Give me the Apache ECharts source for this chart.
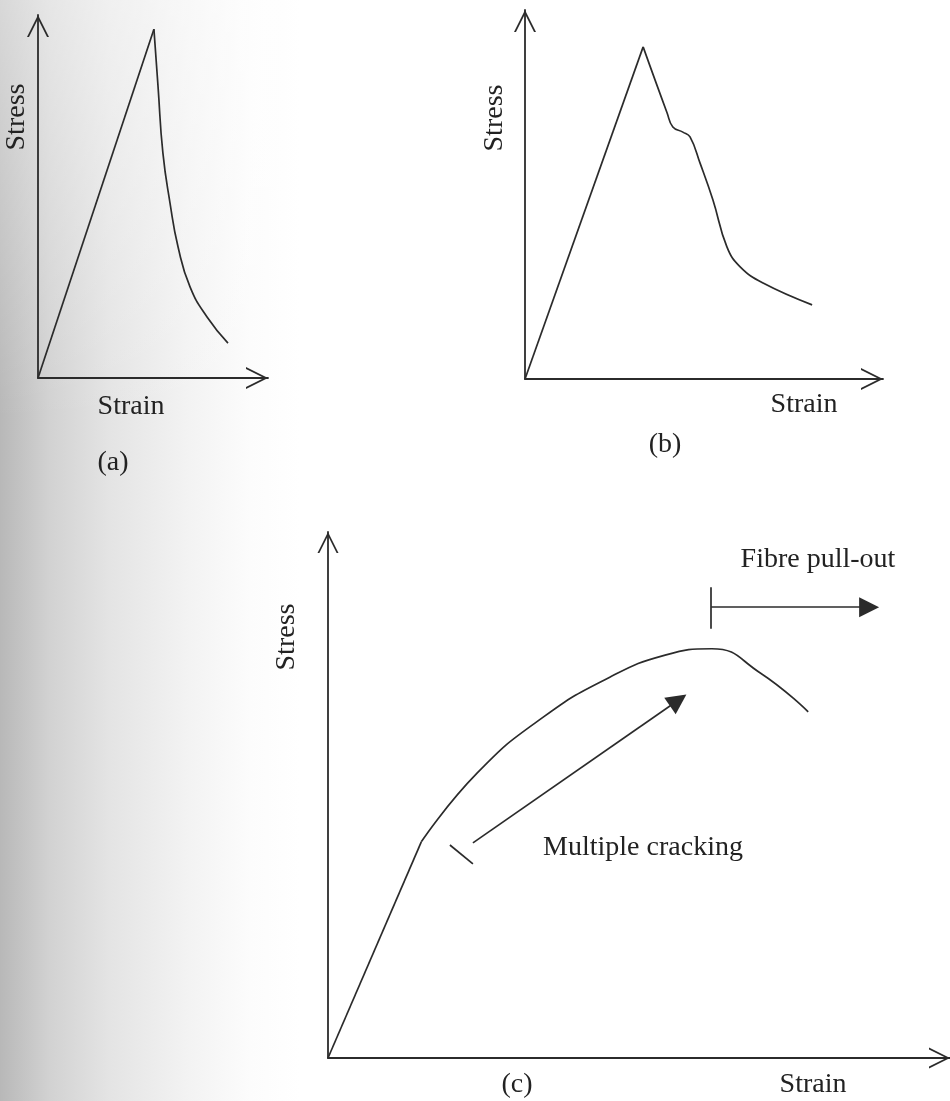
<!DOCTYPE html>
<html>
<head>
<meta charset="utf-8">
<script src="https://cdn.jsdelivr.net/npm/echarts@6/dist/echarts.min.js"></script>
<style>
  html, body { margin: 0; padding: 0; }
  #chart {
    width: 950px; height: 1101px;
    background:
      linear-gradient(to bottom, rgba(255,255,255,0.45) 0px, rgba(255,255,255,0) 420px),
      linear-gradient(to right, #b8b8b8 0px, #d2d2d2 50px, #e4e4e4 110px, #f3f3f3 190px, #fcfcfc 250px, #ffffff 300px);
  }
</style>
</head>
<body>
<div id="chart"></div>
<script>
  /******************/
  //region    //data

  // (a) brittle: straight rise, sudden drop
  let strainA = [0, 50.4, 52.2, 54.3, 57.4, 60.9, 66.1, 73.5, 82.6];
  let stressA = [0, 96.1, 80.2, 62.0, 48.2, 36.1, 25.1, 16.8, 9.6];

  // (b) quasi-brittle: rise, softening with a shoulder
  let strainB = [0, 33.0, 39.7, 41.3, 44.1, 46.1, 48.9, 52.5, 56.4, 60.1, 66.5, 80.2];
  let stressB = [0, 90.0, 72.1, 68.3, 66.9, 65.6, 58.5, 48.5, 35.8, 30.4, 26.0, 20.1];

  // (c) strain hardening: elastic part, multiple cracking, fibre pull-out
  let strainC = [0, 15.0, 24.0, 34.6, 45.3, 54.2, 61.7, 69.5, 77.2];
  let stressC = [0, 41.1, 54.2, 64.8, 72.4, 76.6, 77.8, 73.2, 65.8];

  // annotation marks of (c)
  let crackArrow = [[23.3, 40.9], [56.3, 68.0]];
  let crackTick = [[19.6, 40.5], [23.3, 36.9]];
  let pullTick = [[61.6, 89.5], [61.6, 81.6]];
  let pullArrow = [[61.6, 85.7], [87.0, 85.7]];

  //endregion

  /******************/
  //region    //style

  let ink = '#2b2b2b';
  let font = '"Liberation Serif", "DejaVu Serif", serif';
  let chevron = 'path://M50 0 L100 100 L91 100 L50 18 L9 100 L0 100 Z';

  //endregion

  /******************/
  //region    //function

  function pts(xs, ys, from, to) {
    let out = [];
    for (let i = from; i < to; i++) out.push([xs[i], ys[i]]);
    return out;
  }

  function axis(idx, size) {
    return {
      gridIndex: idx, type: 'value', min: 0, max: 100,
      axisLine: {
        show: true, onZero: false,
        symbol: ['none', chevron], symbolSize: size, symbolOffset: [0, -size[1] / 2],
        lineStyle: {color: ink, width: 1.8}
      },
      axisTick: {show: false}, axisLabel: {show: false}, splitLine: {show: false}
    };
  }

  function curve(idx, data, smooth) {
    return {
      type: 'line', xAxisIndex: idx, yAxisIndex: idx, data: data, smooth: smooth,
      showSymbol: false, silent: true,
      lineStyle: {color: ink, width: 1.7}
    };
  }

  function text(str, x, y, rot) {
    return {
      type: 'text', x: x, y: y, rotation: rot || 0, silent: true,
      style: {text: str, x: 0, y: 0, textAlign: 'center', textVerticalAlign: 'middle', font: '28px ' + font, fill: '#222'}
    };
  }

  function arrow(data, head) {
    return {
      type: 'lines', coordinateSystem: 'cartesian2d', xAxisIndex: 2, yAxisIndex: 2, silent: true,
      symbol: ['none', head ? 'triangle' : 'none'], symbolSize: [15, 20],
      lineStyle: {color: ink, width: 1.7, opacity: 1, curveness: 0},
      itemStyle: {color: ink},
      data: [{coords: data}]
    };
  }

  //endregion

  /******************/
  //region    //init

  let chart = echarts.init(document.getElementById('chart'), null, {renderer: 'canvas'});
  let half = Math.PI / 2;

  chart.setOption({
    backgroundColor: 'transparent',
    animation: false,
    grid: [
      {left: 38, top: 15, width: 230, height: 363},
      {left: 525, top: 10, width: 358, height: 369},
      {left: 328, top: 532, width: 622, height: 526}
    ],
    xAxis: [axis(0, [22, 22]), axis(1, [22, 22]), axis(2, [22, 21])],
    yAxis: [axis(0, [22, 22]), axis(1, [22, 22]), axis(2, [22, 21])],
    series: [
      curve(0, pts(strainA, stressA, 0, 2), false),
      curve(0, pts(strainA, stressA, 1, strainA.length), 0.5),
      curve(1, pts(strainB, stressB, 0, 2), false),
      curve(1, pts(strainB, stressB, 1, strainB.length), 0.45),
      curve(2, pts(strainC, stressC, 0, 2), false),
      curve(2, pts(strainC, stressC, 1, strainC.length), 0.5),
      arrow(crackArrow, true),
      arrow(crackTick, false),
      arrow(pullTick, false),
      arrow(pullArrow, true)
    ],
    graphic: [
      text('Stress', 17, 117, half),
      text('Strain', 131, 407),
      text('(a)', 113, 463),
      text('Stress', 495, 118, half),
      text('Strain', 804, 405),
      text('(b)', 665, 445),
      text('Stress', 287, 637, half),
      text('Strain', 813, 1085),
      text('(c)', 517, 1085),
      text('Multiple cracking', 643, 848),
      text('Fibre pull-out', 818, 560)
    ]
  });

  //endregion
</script>
</body>
</html>
